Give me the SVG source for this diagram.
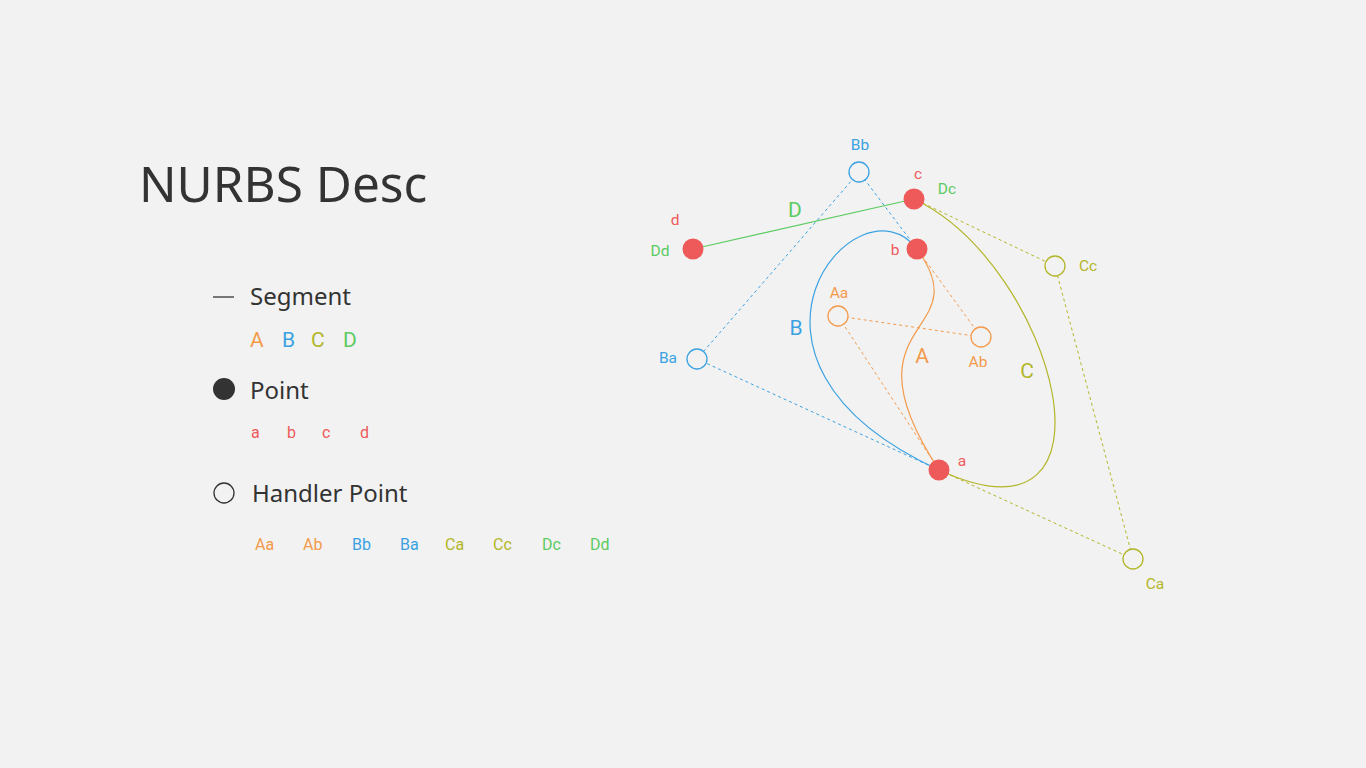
<svg xmlns="http://www.w3.org/2000/svg" width="1366" height="768" viewBox="0 0 1366 768">
<style>
.bg{fill:#f2f2f2}
.title{font-family:"Noto Sans","Open Sans",sans-serif;fill:#333}
.lbl{font-family:Roboto,"Liberation Sans",sans-serif}
.seg{font-family:Roboto,"Liberation Sans",sans-serif;font-size:21px}
.o{fill:#f39a4b}.bl{fill:#3ba2e2}.ol{fill:#b3b629}.g{fill:#5ccb62}.r{fill:#ee5a5a}
.pt{fill:#ee5a5a}
.h{fill:#f2f2f2;stroke-width:1.3}
.dash{fill:none;stroke-width:1;stroke-dasharray:3 3}
.cv{fill:none;stroke-width:1.2}
</style>
<rect class="bg" width="1366" height="768"/>
<text class="title" x="139" y="202" font-size="49.5">NURBS Desc</text>
<g id="legend">
<line x1="213" y1="297" x2="234" y2="297" stroke="#333" stroke-width="1.3"/>
<text class="title" x="250" y="305" font-size="24">Segment</text>
<text class="seg o" x="250" y="347">A</text>
<text class="seg bl" x="282" y="347">B</text>
<text class="seg ol" x="311" y="347">C</text>
<text class="seg g" x="343" y="347">D</text>
<circle cx="224" cy="389" r="11" fill="#333"/>
<text class="title" x="250" y="399" font-size="24">Point</text>
<text class="lbl r" x="251" y="438" font-size="16">a</text>
<text class="lbl r" x="287" y="438" font-size="16">b</text>
<text class="lbl r" x="322" y="438" font-size="16">c</text>
<text class="lbl r" x="360" y="438" font-size="16">d</text>
<circle cx="224" cy="493" r="10" fill="none" stroke="#333" stroke-width="1.3"/>
<text class="title" x="252" y="502" font-size="24">Handler Point</text>
<text class="lbl o" x="255" y="550" font-size="16">Aa</text>
<text class="lbl o" x="303" y="550" font-size="16">Ab</text>
<text class="lbl bl" x="352" y="550" font-size="16">Bb</text>
<text class="lbl bl" x="400" y="550" font-size="16">Ba</text>
<text class="lbl ol" x="445" y="550" font-size="16">Ca</text>
<text class="lbl ol" x="493" y="550" font-size="16">Cc</text>
<text class="lbl g" x="542" y="550" font-size="16">Dc</text>
<text class="lbl g" x="590" y="550" font-size="16">Dd</text>
</g>
<g id="connectors">
<polyline class="dash" stroke="#f39a4b" points="939,470 838,316 981,337 917,249"/>
<polyline class="dash" stroke="#3ba2e2" points="939,470 697,359 859,172 917,249"/>
<polyline class="dash" stroke="#b3b629" points="939,470 1133,559 1055,266 914,199"/>
<path class="cv" stroke="#f39a4b" d="M939,470 C838,316 981,337 917,249"/>
<path class="cv" stroke="#3ba2e2" d="M939,470 C697,359 859,172 917,249"/>
<path class="cv" stroke="#b3b629" d="M939,470 C1133,559 1055,266 914,199"/>
<line class="cv" stroke="#5ccb62" x1="693" y1="249" x2="914" y2="199"/>
<text class="seg o" x="922" y="363" text-anchor="middle">A</text>
<text class="seg bl" x="796" y="335" text-anchor="middle">B</text>
<text class="seg ol" x="1027" y="378" text-anchor="middle">C</text>
<text class="seg g" x="795" y="217" text-anchor="middle">D</text>
</g>
<g id="Aa"><circle class="h" stroke="#f39a4b" cx="838" cy="316" r="10"/><text class="lbl o" x="839" y="298" font-size="15.5" text-anchor="middle">Aa</text></g>
<g id="Ab"><circle class="h" stroke="#f39a4b" cx="981" cy="337" r="10"/><text class="lbl o" x="978" y="367" font-size="15.5" text-anchor="middle">Ab</text></g>
<g id="Bb"><circle class="h" stroke="#3ba2e2" cx="859" cy="172" r="10"/><text class="lbl bl" x="860" y="150" font-size="15.5" text-anchor="middle">Bb</text></g>
<g id="Ba"><circle class="h" stroke="#3ba2e2" cx="697" cy="359" r="10"/><text class="lbl bl" x="668" y="363" font-size="15.5" text-anchor="middle">Ba</text></g>
<g id="Cc"><circle class="h" stroke="#b3b629" cx="1055" cy="266" r="10"/><text class="lbl ol" x="1088" y="271" font-size="15.5" text-anchor="middle">Cc</text></g>
<g id="Ca"><circle class="h" stroke="#b3b629" cx="1133" cy="559" r="10"/><text class="lbl ol" x="1155" y="589" font-size="15.5" text-anchor="middle">Ca</text></g>
<g id="a"><circle class="pt" cx="939" cy="470" r="10.5"/><text class="lbl r" x="962" y="466" font-size="15.5" text-anchor="middle">a</text></g>
<g id="b"><circle class="pt" cx="917" cy="249" r="10.5"/><text class="lbl r" x="895" y="255" font-size="15.5" text-anchor="middle">b</text></g>
<g id="c"><circle class="pt" cx="914" cy="199" r="10.5"/><text class="lbl r" x="918" y="179" font-size="15.5" text-anchor="middle">c</text><text class="lbl g" x="947" y="194" font-size="15.5" text-anchor="middle">Dc</text></g>
<g id="d"><circle class="pt" cx="693" cy="249" r="10.5"/><text class="lbl r" x="675" y="225" font-size="15.5" text-anchor="middle">d</text><text class="lbl g" x="660" y="256" font-size="15.5" text-anchor="middle">Dd</text></g>
</svg>
